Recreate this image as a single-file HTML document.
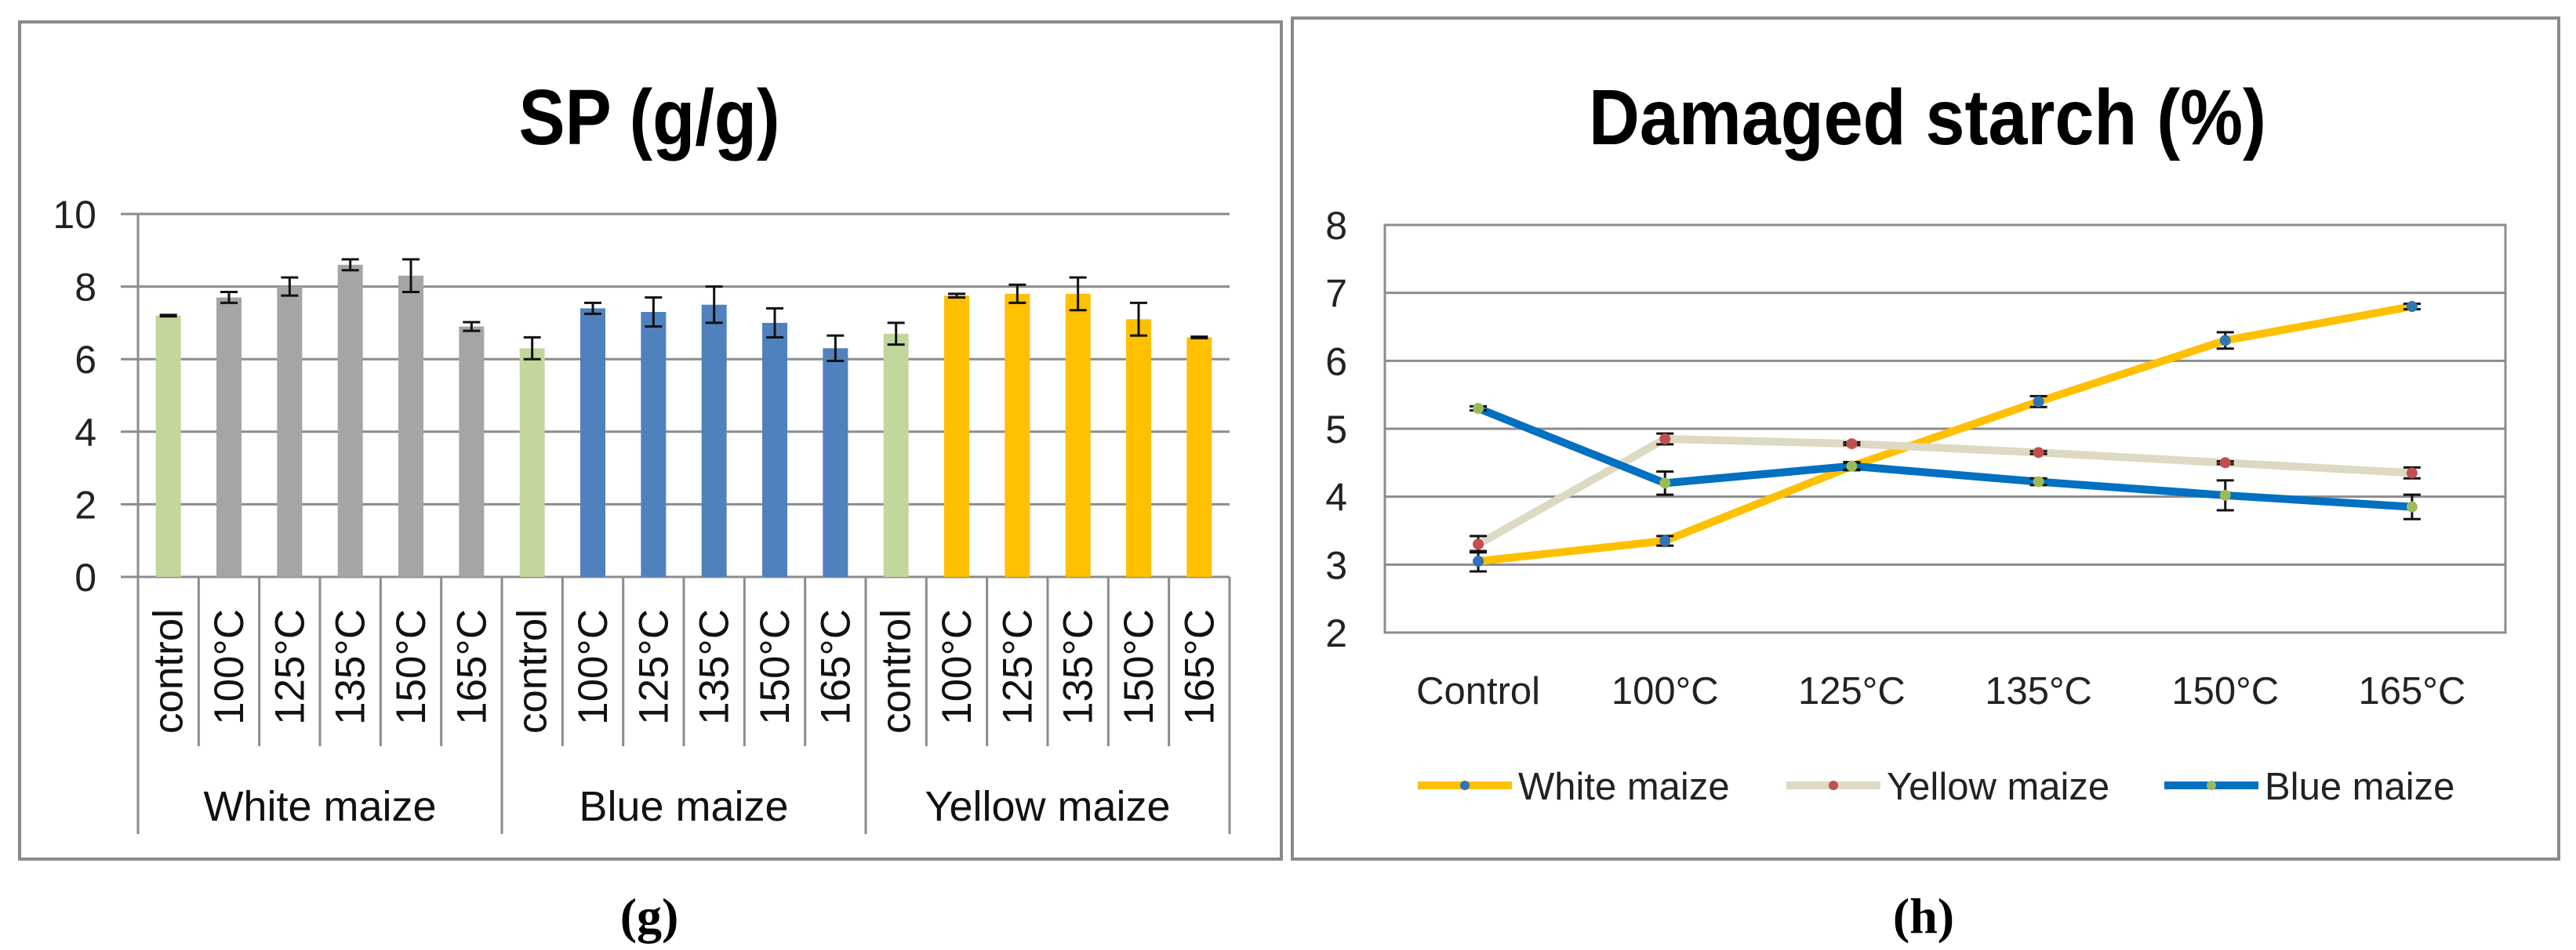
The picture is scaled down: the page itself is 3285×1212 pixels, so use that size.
<!DOCTYPE html>
<html><head><meta charset="utf-8"><style>
html,body{margin:0;padding:0;background:#fff;}
svg{display:block;font-family:"Liberation Sans",sans-serif;}
</style></head><body>
<svg id="svg" width="3285" height="1212" viewBox="0 0 3285 1212">
<rect x="25" y="28" width="1609" height="1068" fill="#fff" stroke="#8a8a8a" stroke-width="4"/>
<text x="828" y="184" text-anchor="middle" font-size="100" font-weight="bold" textLength="333" lengthAdjust="spacingAndGlyphs">SP (g/g)</text>
<g id="left"></g>
<text x="828" y="1190" text-anchor="middle" font-family="Liberation Serif,serif" font-size="64" font-weight="bold">(g)</text>

<rect x="1648" y="23" width="1615" height="1073" fill="#fff" stroke="#8a8a8a" stroke-width="4"/>
<text x="2458" y="184" text-anchor="middle" font-size="100" font-weight="bold" textLength="864" lengthAdjust="spacingAndGlyphs">Damaged starch (%)</text>
<g id="right"></g>
<text x="2453" y="1190" text-anchor="middle" font-family="Liberation Serif,serif" font-size="64" font-weight="bold">(h)</text>
</svg>
<script>
// ---- Left chart data ----
const spGroups = ["White maize","Blue maize","Yellow maize"];
const spCats = ["control","100°C","125°C","135°C","150°C","165°C"];
const spWhite = [7.2,7.7,8.0,8.6,8.3,6.9];
const spWhiteErr = [0.02,0.15,0.25,0.15,0.45,0.12];
const spBlue = [6.3,7.4,7.3,7.5,7.0,6.3];
const spBlueErr = [0.3,0.15,0.4,0.5,0.4,0.35];
const spYellow = [6.7,7.75,7.8,7.8,7.1,6.6];
const spYellowErr = [0.3,0.05,0.25,0.45,0.45,0.02];
const spTicks = [0,2,4,6,8,10];

// ---- Right chart data ----
const dsCats = ["Control","100°C","125°C","135°C","150°C","165°C"];
const dsWhite = [3.05,3.35,4.45,5.4,6.3,6.8];
const dsWhiteErr = [0.15,0.07,0.05,0.08,0.12,0.04];
const dsYellow = [3.3,4.85,4.78,4.65,4.5,4.35];
const dsYellowErr = [0.12,0.08,0.02,0.02,0.02,0.08];
const dsBlue = [5.3,4.2,4.45,4.22,4.02,3.85];
const dsBlueErr = [0.03,0.17,0.06,0.05,0.22,0.18];
const dsTicks = [2,3,4,5,6,7,8];

const NS="http://www.w3.org/2000/svg";
function mk(parent,tag,attrs,text){const e=document.createElementNS(NS,tag);for(const k in attrs)e.setAttribute(k,attrs[k]);if(text!==undefined)e.textContent=text;parent.appendChild(e);return e;}

// Left chart
(function(){
const g=document.getElementById('left');
const x0=176,x1=1568,y0=736,y1=273;
const yS=v=>y0-(v-0)/(10-0)*(y0-y1);
const n=18,slot=(x1-x0)/n;
spTicks.forEach(t=>{
  const l=mk(g,'line',{x1:x0-22,x2:x1,y1:yS(t),y2:yS(t),stroke:'#8c8c8c','stroke-width':3});
  
  
  const tx=mk(g,'text',{x:123,y:yS(t)+18,'text-anchor':'end','font-size':50,fill:'#222'},t);
  
  
});
const ax=mk(g,'line',{x1:x0,x2:x0,y1:y1,y2:1064,stroke:'#8c8c8c','stroke-width':3});


const series=[[spWhite,spWhiteErr,'#a5a5a5'],[spBlue,spBlueErr,'#4f81bd'],[spYellow,spYellowErr,'#ffc000']];
series.forEach((s,gi)=>{
  s[0].forEach((v,i)=>{
    const idx=gi*6+i,cx=x0+slot*(idx+0.5);
    const col=i===0?'#c3d69b':s[2];
    const r=mk(g,'rect',{x:cx-16,y:yS(v),width:32,height:y0-yS(v),fill:col});
    
    
    const e=s[1][i],yt=yS(v+e),yb=yS(v-e);
    const eb=mk(g,'path',{d:`M${cx},${yt}V${yb}M${cx-11},${yt}H${cx+11}M${cx-11},${yb}H${cx+11}`,stroke:'#111','stroke-width':3,fill:'none'});
    
    
    const lx=cx+18,ly=777;
    const t=mk(g,'text',{x:lx,y:ly,'text-anchor':'end','font-size':53,fill:'#111',transform:`rotate(-90 ${lx} ${ly})`},spCats[i]);
    
    
    if(idx>0){
      const sep=mk(g,'line',{x1:x0+slot*idx,x2:x0+slot*idx,y1:y0,y2:i===0?1064:952,stroke:'#8c8c8c','stroke-width':3});
      
      
    }
  });
  const gt=mk(g,'text',{x:x0+slot*(gi*6+3),y:1047,'text-anchor':'middle','font-size':54,fill:'#111'},spGroups[gi]);
  
  
});
const re=mk(g,'line',{x1:x1,x2:x1,y1:y0,y2:1064,stroke:'#8c8c8c','stroke-width':3});


})();

// Right chart
(function(){
const g=document.getElementById('right');
const x0=1766,x1=3195,y0=807,y1=287;
const yS=v=>y0-(v-2)/(8-2)*(y0-y1);
const slot=(x1-x0)/dsCats.length;
const xS=i=>x0+slot*(i+0.5);
const box=mk(g,'rect',{x:x0,y:y1,width:x1-x0,height:y0-y1,fill:'none',stroke:'#8c8c8c','stroke-width':3});


dsTicks.forEach(t=>{
  const l=mk(g,'line',{x1:x0,x2:x1,y1:yS(t),y2:yS(t),stroke:'#8c8c8c','stroke-width':3});
  
  
  const tx=mk(g,'text',{x:1718,y:yS(t)+18,'text-anchor':'end','font-size':50,fill:'#222'},t);
  
  
});
dsCats.forEach((c,i)=>{
  const t=mk(g,'text',{x:xS(i),y:898,'text-anchor':'middle','font-size':49,fill:'#222'},c);
  
  
});
const series=[['white-maize',dsWhite,dsWhiteErr,'#ffc000','#2e75b6'],['yellow-maize',dsYellow,dsYellowErr,'#ddd9c3','#c0504d'],['blue-maize',dsBlue,dsBlueErr,'#0070c0','#9bbb59']];
series.forEach(s=>{
  const d=s[1].map((v,i)=>(i?'L':'M')+xS(i)+','+yS(v)).join('');
  const p=mk(g,'path',{d:d,fill:'none',stroke:s[3],'stroke-width':10,'stroke-linejoin':'round'});
  
  
});
series.forEach(s=>{
  s[1].forEach((v,i)=>{
    const cx=xS(i),e=s[2][i],yt=yS(v+e),yb=yS(v-e);
    const eb=mk(g,'path',{d:`M${cx},${yt}V${yb}M${cx-11},${yt}H${cx+11}M${cx-11},${yb}H${cx+11}`,stroke:'#111','stroke-width':3,fill:'none'});
    
    
    const m=mk(g,'circle',{cx:cx,cy:yS(v),r:7,fill:s[4]});
    
    
  });
});
const leg=[['White maize',1808,'#ffc000','#2e75b6'],['Yellow maize',2278,'#ddd9c3','#c0504d'],['Blue maize',2760,'#0070c0','#9bbb59']];
leg.forEach(l=>{
  const ln=mk(g,'line',{x1:l[1],x2:l[1]+120,y1:1002,y2:1002,stroke:l[2],'stroke-width':10});
  
  
  const c=mk(g,'circle',{cx:l[1]+60,cy:1002,r:6,fill:l[3]});
  
  
  const t=mk(g,'text',{x:l[1]+128,y:1020,'font-size':49,fill:'#222'},l[0]);
  
  
});
})();
</script>
</body></html>
